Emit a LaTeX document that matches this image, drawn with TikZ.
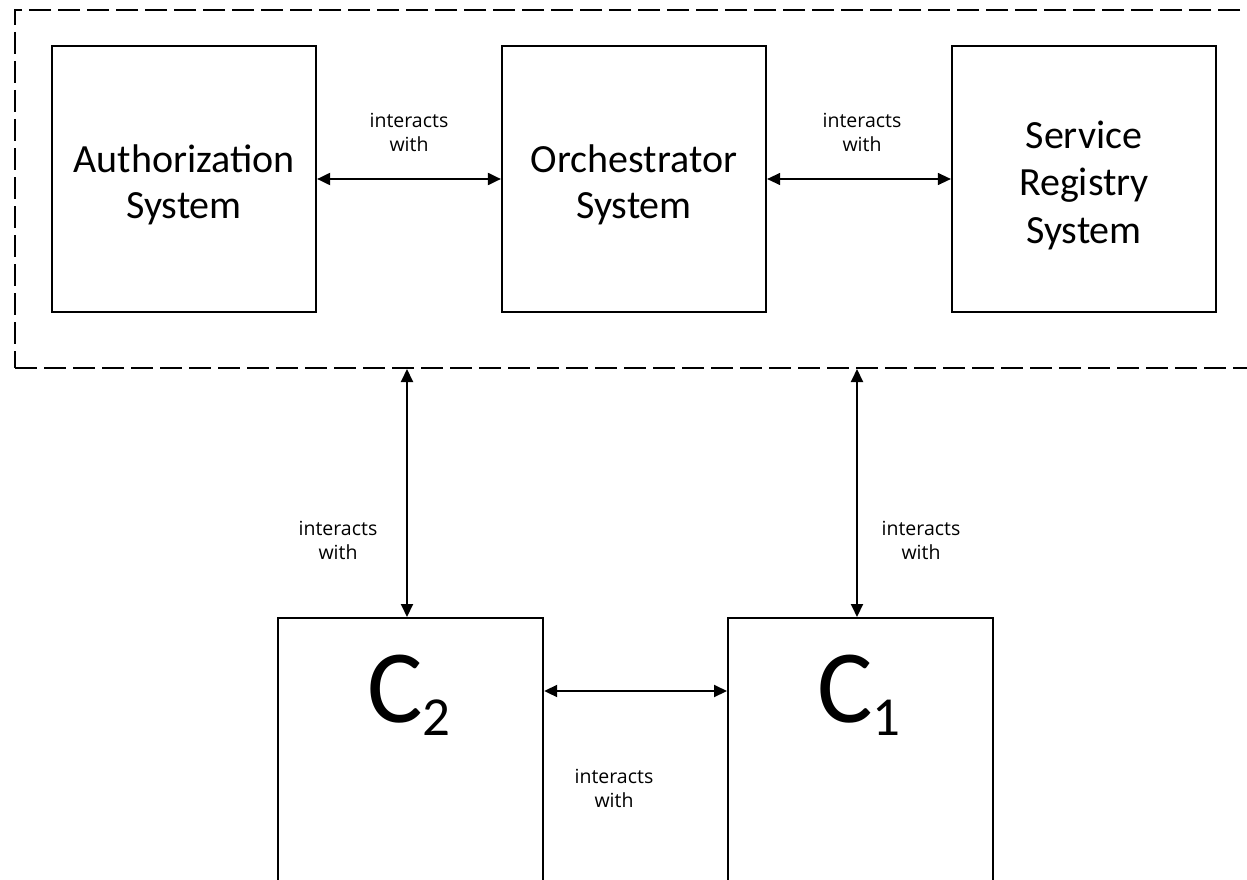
\documentclass[tikz,border=0pt]{standalone}
\usepackage{fontspec}
\setmainfont{Carlito}
\newfontfamily\labelfont{Open Sans}
\usetikzlibrary{arrows.meta}
\begin{document}
\begin{tikzpicture}[x=1pt,y=-1pt,
  sysbox/.style={draw,line width=2.2pt,minimum width=264pt,minimum height=266pt,
    inner sep=0pt,align=center,font=\fontsize{40}{47}\selectfont},
  clientbox/.style={draw,line width=2.2pt,minimum width=265pt,minimum height=300pt,inner sep=0pt},
  biarrow/.style={{Triangle[length=13pt,width=12pt]}-{Triangle[length=13pt,width=12pt]},line width=2pt},
  thinarrow/.style={biarrow,line width=1.2pt},
  lbl/.style={align=center,inner sep=0pt,font=\labelfont\fontsize{19.5}{24}\selectfont},
  clabel/.style={inner sep=0pt,anchor=base west,font=\fontsize{104}{110}\selectfont}]
\useasboundingbox (0,0) rectangle (1247,880);
\begin{scope}
\clip (0,0) rectangle (1247,880);
% dashed frame around the core systems
\node[draw,dash pattern=on 22pt off 7pt,line width=2pt,minimum width=1260pt,minimum height=358pt,inner sep=0pt,anchor=north west] (frame) at (14,9) {};
% core systems
\node[sysbox] (auth) at (184,179) {};
\node[sysbox] (orch) at (634,179) {};
\node[sysbox] (sr) at (1084,179) {};
\node[align=center,font=\fontsize{40}{46}\selectfont] (autht) at (184,185) {Authorization\\System};
\node[align=center,font=\fontsize{40}{46}\selectfont] (orcht) at (634,185) {Orchestrator\\System};
\node[align=center,font=\fontsize{40}{47.5}\selectfont] (srt) at (1084,185) {Service\\Registry\\System};
% client systems
\node[clientbox,anchor=north west] (c2) at (277,617) {};
\node[clientbox,anchor=north west] (c1) at (727,617) {};
\node[clabel] (c2l) at (367,722) {C\raisebox{-13pt}{\fontsize{55}{60}\selectfont 2}};
\node[clabel] (c1l) at (817,722) {C\raisebox{-13pt}{\fontsize{55}{60}\selectfont 1}};
% connectors
\coordinate (lx) at (407,0);
\coordinate (rx) at (857,0);
\coordinate (cy) at (0,691);
\draw[biarrow] (auth.east) -- (orch.west);
\draw[thinarrow] (orch.east) -- (sr.west);
\draw[biarrow] (lx |- frame.south) -- (lx |- c2.north);
\draw[biarrow] (rx |- frame.south) -- (rx |- c1.north);
\draw[biarrow] (c2.east |- cy) -- (c1.west |- cy);
% connector labels
\node[lbl] (l1) at (409,132) {interacts\\with};
\node[lbl] (l2) at (862,132) {interacts\\with};
\node[lbl] (l3) at (338,540) {interacts\\with};
\node[lbl] (l4) at (921,540) {interacts\\with};
\node[lbl] (l5) at (614,788) {interacts\\with};
\end{scope}
\end{tikzpicture}
\end{document}
